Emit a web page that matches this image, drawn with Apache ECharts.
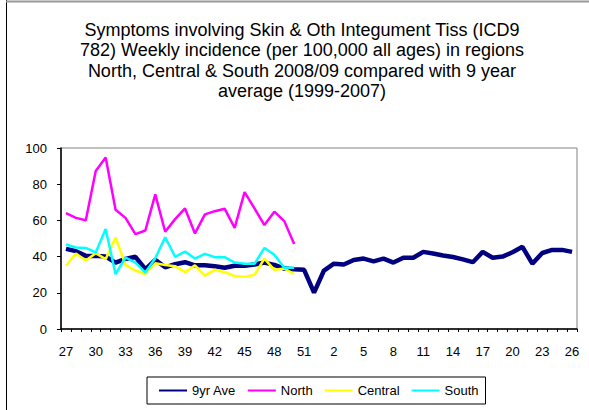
<!DOCTYPE html>
<html>
<head>
<meta charset="utf-8">
<script src="https://cdn.jsdelivr.net/npm/echarts@6/dist/echarts.min.js"></script>
<style>
html,body{margin:0;padding:0;background:#fff;}
#chart{width:589px;height:410px;}
</style>
</head>
<body>
<div id="chart"></div>
<script>
var titleLines = [
  'Symptoms involving Skin & Oth Integument Tiss (ICD9',
  '782) Weekly incidence (per 100,000 all ages) in regions',
  'North, Central & South 2008/09 compared with 9 year',
  'average (1999-2007)'
];
var weeks = ['27','28','29','30','31','32','33','34','35','36','37','38','39','40','41','42','43','44','45','46','47','48','49','50','51','52',
             '1','2','3','4','5','6','7','8','9','10','11','12','13','14','15','16','17','18','19','20','21','22','23','24','25','26'];
var ave9yr = [44.3,43.0,40.4,40.4,40.0,36.7,38.7,39.9,33.0,38.2,34.1,35.8,36.9,35.2,35.2,34.7,33.8,34.9,34.9,35.6,36.7,35.4,33.4,33.0,32.7,20.1,
              32.3,36.1,35.6,38.1,38.9,37.4,38.9,36.7,39.4,39.4,42.6,41.7,40.6,39.8,38.5,36.9,42.6,39.4,40.0,42.4,45.4,36.1,42.0,43.7,43.7,42.6];
var north = [64.0,61.4,60.1,87.3,94.8,65.9,61.4,52.4,54.4,74.4,53.7,60.7,66.6,52.8,63.3,65.1,66.4,55.9,75.6,66.6,57.4,64.8,59.6,46.9];
var central = [34.9,41.7,37.8,41.9,38.6,50.6,35.4,32.3,30.4,36.3,35.4,34.7,31.4,35.2,29.5,32.7,31.4,29.3,28.8,29.9,38.9,32.7,33.4,30.4];
var south = [46.7,45.0,44.8,42.3,55.2,30.3,39.5,36.7,31.2,39.1,50.7,39.9,42.8,38.9,41.5,39.7,39.7,36.7,36.0,36.0,44.8,41.0,33.8,33.8];

var font = 'Liberation Sans, Arial, sans-serif';
var chart = echarts.init(document.getElementById('chart'), null, {renderer: 'svg'});
chart.setOption({
  animation: false,
  backgroundColor: '#fff',
  graphic: [
    {type: 'line', shape: {x1: 6.5, y1: 0, x2: 6.5, y2: 410}, style: {stroke: '#000', lineWidth: 1}},
    {type: 'line', shape: {x1: 6, y1: 1.5, x2: 589, y2: 1.5}, style: {stroke: '#999', lineWidth: 2}},
    {type: 'text', x: 302, y: 20, style: {text: titleLines.join('\n'), fill: '#000', font: '18px ' + font, textAlign: 'center', textVerticalAlign: 'top', lineHeight: 20.3}}
  ],
  grid: {left: 61, right: 12, top: 148, bottom: 81, show: true, borderColor: '#808080', borderWidth: 1, backgroundColor: 'transparent'},
  legend: {
    left: 147, top: 377,
    padding: [7, 7, 7, 12],
    borderColor: '#000', borderWidth: 1,
    itemGap: 12, itemWidth: 28, itemHeight: 2,
    icon: 'rect',
    textStyle: {fontFamily: font, fontSize: 13, color: '#000', padding: [0, 0, 0, 0]},
    data: ['9yr Ave', 'North', 'Central', 'South']
  },
  xAxis: {
    type: 'category',
    data: weeks,
    boundaryGap: true,
    axisLine: {lineStyle: {color: '#000', width: 1.5}},
    axisTick: {show: true, interval: 0, length: 3, lineStyle: {color: '#000'}},
    axisLabel: {interval: 2, margin: 16, color: '#000', fontFamily: font, fontSize: 13}
  },
  yAxis: {
    type: 'value',
    min: 0, max: 100, interval: 20,
    axisLine: {show: true, lineStyle: {color: '#000', width: 1.5}},
    axisTick: {show: true, length: 4, lineStyle: {color: '#000'}},
    splitLine: {show: false},
    axisLabel: {margin: 14, color: '#000', fontFamily: font, fontSize: 13}
  },
  series: [
    {name: '9yr Ave', type: 'line', data: ave9yr, symbol: 'none', lineStyle: {color: '#000080', width: 4.5}, itemStyle: {color: '#000080'}, z: 3},
    {name: 'North', type: 'line', data: north, symbol: 'none', lineStyle: {color: '#FF00FF', width: 2.5}, itemStyle: {color: '#FF00FF'}, z: 4},
    {name: 'Central', type: 'line', data: central, symbol: 'none', lineStyle: {color: '#FFFF00', width: 2.5}, itemStyle: {color: '#FFFF00'}, z: 4},
    {name: 'South', type: 'line', data: south, symbol: 'none', lineStyle: {color: '#00FFFF', width: 2.5}, itemStyle: {color: '#00FFFF'}, z: 4}
  ]
});
</script>
</body>
</html>
